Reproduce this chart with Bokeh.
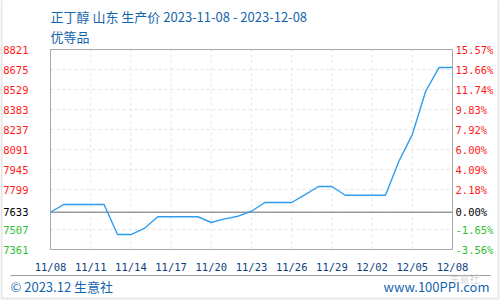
import pandas as pd
from bokeh.plotting import figure
from bokeh.models import (ColumnDataSource, LabelSet, Label, BoxAnnotation, Range1d)
from bokeh.core.properties import value
from bokeh.embed import file_html
from bokeh.resources import INLINE

# ---- data ----
dates = ["2023-11-08", "2023-11-09", "2023-11-10", "2023-11-11", "2023-11-12",
         "2023-11-13", "2023-11-14", "2023-11-15", "2023-11-16", "2023-11-17",
         "2023-11-18", "2023-11-19", "2023-11-20", "2023-11-21", "2023-11-22",
         "2023-11-23", "2023-11-24", "2023-11-25", "2023-11-26", "2023-11-27",
         "2023-11-28", "2023-11-29", "2023-11-30", "2023-12-01", "2023-12-02",
         "2023-12-03", "2023-12-04", "2023-12-05", "2023-12-06", "2023-12-07",
         "2023-12-08"]
prices = [7633, 7690, 7690, 7690, 7690, 7470, 7470, 7515, 7600, 7600,
          7600, 7600, 7558, 7585, 7604, 7640, 7704, 7704, 7704, 7762,
          7821, 7821, 7757, 7757, 7757, 7757, 8005, 8200, 8516, 8690,
          8690]
base_price = 7633
y_ticks = [7361, 7507, 7633, 7799, 7945, 8091, 8237, 8383, 8529, 8675, 8821]
y_tick_labels = ["7361", "7507", "7633", "7799", "7945", "8091", "8237",
                 "8383", "8529", "8675", "8821"]
pct_tick_labels = ["-3.56%", "-1.65%", "0.00%", "2.18%", "4.09%", "6.00%",
                   "7.92%", "9.83%", "11.74%", "13.66%", "15.57%"]
x_ticks = ["2023-11-08", "2023-11-11", "2023-11-14", "2023-11-17", "2023-11-20",
           "2023-11-23", "2023-11-26", "2023-11-29", "2023-12-02", "2023-12-05",
           "2023-12-08"]
x_tick_labels = ["11/08", "11/11", "11/14", "11/17", "11/20", "11/23",
                 "11/26", "11/29", "12/02", "12/05", "12/08"]
title_text = "正丁醇 山东 生产价 2023-11-08 - 2023-12-08"
subtitle_text = "优等品"
footer_left = "© 2023.12 生意社"
footer_right = "www.100PPI.com"
watermark = "生意社"

# ---- styles ----
RED, GREEN, BLACK = "#ff1a1a", "#2fbf2f", "#000000"
tick_colors = [GREEN if t < base_price else (BLACK if t == base_price else RED) for t in y_ticks]
BLUE = "#1565ad"
MONO = value("DejaVu Sans Mono")
CJK = "Noto Sans CJK SC"
W, H = 500, 300
PL, PR, PT, PB = 50, 452, 49, 249   # plot area in canvas pixels

dt = pd.to_datetime(dates)
xt = pd.to_datetime(x_ticks)
y_lo, y_hi = y_ticks[0], y_ticks[-1]
ppx_y = (y_hi - y_lo) / (PB - PT)
day_px = (PR - PL) / ((dt[-1] - dt[0]) / pd.Timedelta(days=1))
x_start = dt[0] - pd.Timedelta(days=PL / day_px)
x_end = dt[-1] + pd.Timedelta(days=(W - PR) / day_px)
y_start = y_lo - (H - PB) * ppx_y
y_end = y_hi + PT * ppx_y

p = figure(width=W, height=H, x_axis_type="datetime",
           x_range=Range1d(x_start, x_end), y_range=Range1d(y_start, y_end),
           output_backend="svg", toolbar_location=None,
           min_border_left=0, min_border_right=0, min_border_top=0, min_border_bottom=0)
p.axis.visible = False
p.grid.visible = False
p.outline_line_color = None
p.background_fill_color = "white"
p.border_fill_color = "white"

# grid (dashed)
p.segment(x0=list(xt), y0=[y_lo] * len(xt), x1=list(xt), y1=[y_hi] * len(xt),
          line_color="#e4e4e4", line_dash="3 3", line_width=1)
p.segment(x0=[dt[0]] * len(y_ticks), y0=y_ticks, x1=[dt[-1]] * len(y_ticks), y1=y_ticks,
          line_color="#e4e4e4", line_dash="3 3", line_width=1)
# plot frame
p.quad(left=[dt[0]], right=[dt[-1]], bottom=[y_lo], top=[y_hi], fill_alpha=0,
       line_color="#a8a8a8", line_width=1)
# base line
p.segment(x0=[dt[0]], y0=[base_price], x1=[dt[-1]], y1=[base_price],
          line_color="#9a9a9a", line_width=1.5)

src = ColumnDataSource(dict(date=dt, price=prices))
p.line(x="date", y="price", source=src, line_color="#2e9df0", line_width=1.4)

# y tick labels (coloured per tick)
tsrc = ColumnDataSource(dict(y=y_ticks, lab=y_tick_labels, pct=pct_tick_labels, col=tick_colors))
p.add_layout(LabelSet(x=28, y="y", x_units="screen", y_units="data", text="lab",
                      source=tsrc, text_align="right", text_baseline="middle",
                      text_color="col", text_font=MONO, text_font_size="10.5px"))
p.add_layout(LabelSet(x=455, y="y", x_units="screen", y_units="data", text="pct",
                      source=tsrc, text_align="left", text_baseline="middle",
                      text_color="col", text_font=MONO, text_font_size="10.5px"))
# x tick labels
xsrc = ColumnDataSource(dict(x=xt, lab=x_tick_labels))
p.add_layout(LabelSet(x="x", y=H - 266, x_units="data", y_units="screen", text="lab",
                      source=xsrc, text_align="center", text_baseline="middle",
                      text_color="#0b3f80", text_font=MONO, text_font_size="10.5px"))

# titles
p.add_layout(Label(x=50, y=H - 16, x_units="screen", y_units="screen", text=title_text,
                   text_font=CJK, text_font_size="13px", text_color=BLUE,
                   text_baseline="middle", text_align="left"))
p.add_layout(Label(x=50, y=H - 36, x_units="screen", y_units="screen", text=subtitle_text,
                   text_font=CJK, text_font_size="13px", text_color=BLUE,
                   text_baseline="middle", text_align="left"))

# footer
p.add_layout(BoxAnnotation(left=10, right=490, top=H - 274.5, bottom=H - 275.5,
                           left_units="screen", right_units="screen", top_units="screen",
                           bottom_units="screen", fill_color="#a0a0a0", fill_alpha=1,
                           line_alpha=0))
p.add_layout(Label(x=10, y=H - 286, x_units="screen", y_units="screen", text=footer_left,
                   text_font=CJK, text_font_size="13px", text_color=BLUE,
                   text_baseline="middle", text_align="left"))
p.add_layout(Label(x=489, y=H - 286, x_units="screen", y_units="screen", text=footer_right,
                   text_font=CJK, text_font_size="13px", text_color=BLUE,
                   text_baseline="middle", text_align="right"))
p.add_layout(Label(x=464, y=H - 278, x_units="screen", y_units="screen", text=watermark,
                   text_font=CJK, text_font_size="10px", text_color="#b8b8b8", text_alpha=0.6,
                   text_baseline="middle", text_align="center"))

# outer border
p.add_layout(BoxAnnotation(left=1, right=498, top=H + 10, bottom=H - 298,
                           left_units="screen", right_units="screen", top_units="screen",
                           bottom_units="screen", fill_alpha=0, line_color="#b0b0b0",
                           line_width=2))

open("out.html", "w").write(file_html(p, INLINE))
